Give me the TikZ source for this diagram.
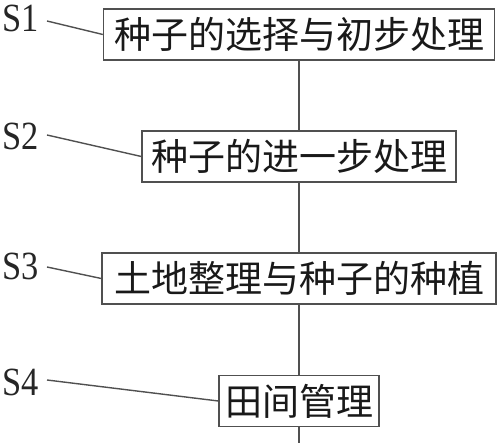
\documentclass[tikz,border=0pt]{standalone}
\usepackage{fontspec}
\usepackage{graphicx}
\setmainfont{Liberation Serif}
\newfontfamily\cjk{Noto Sans CJK SC}
\tikzset{
  stepbox/.style={draw=linegray, line width=1.4pt, fill=white, minimum height=51pt,
    inner xsep=6pt, inner ysep=0pt, font=\cjk\fontsize{37}{37}\selectfont, text=black!90},
  slabel/.style={font=\fontsize{40}{40}\selectfont, inner sep=0pt, text=black!85},
  conn/.style={draw=linegray, line width=1.4pt}
}
\definecolor{linegray}{HTML}{505050}
\begin{document}
\begin{tikzpicture}[x=1pt,y=1pt]
\useasboundingbox (0,0) rectangle (500,443);
\node[stepbox, minimum width=391pt] (b1) at (299,408.5) {种子的选择与初步处理};
\node[stepbox, minimum width=314pt] (b2) at (299,286.5) {种子的进一步处理};
\node[stepbox, minimum width=394pt] (b3) at (299,164.5) {土地整理与种子的种植};
\node[stepbox, minimum width=159pt] (b4) at (299,42) {田间管理};
\coordinate (bot) at (299,0);
\node[slabel] (s1) at (21,425) {\scalebox{0.86}[1]{S1}};
\node[slabel] (s2) at (21,307) {\scalebox{0.86}[1]{S2}};
\node[slabel] (s3) at (21,177) {\scalebox{0.86}[1]{S3}};
\node[slabel] (s4) at (21,61) {\scalebox{0.86}[1]{S4}};
\coordinate (c1) at (47,422);
\coordinate (c2) at (47,308);
\coordinate (c3) at (47,176);
\coordinate (c4) at (47,63);
\draw[conn] (b1.south) -- (b2.north);
\draw[conn] (b2.south) -- (b3.north);
\draw[conn] (b3.south) -- (b4.north);
\draw[conn] (b4.south) -- (bot);
\draw[conn] (c1) -- (b1.west);
\draw[conn] (c2) -- (b2.west);
\draw[conn] (c3) -- (b3.west);
\draw[conn] (c4) -- (b4.west);
\end{tikzpicture}
\end{document}
